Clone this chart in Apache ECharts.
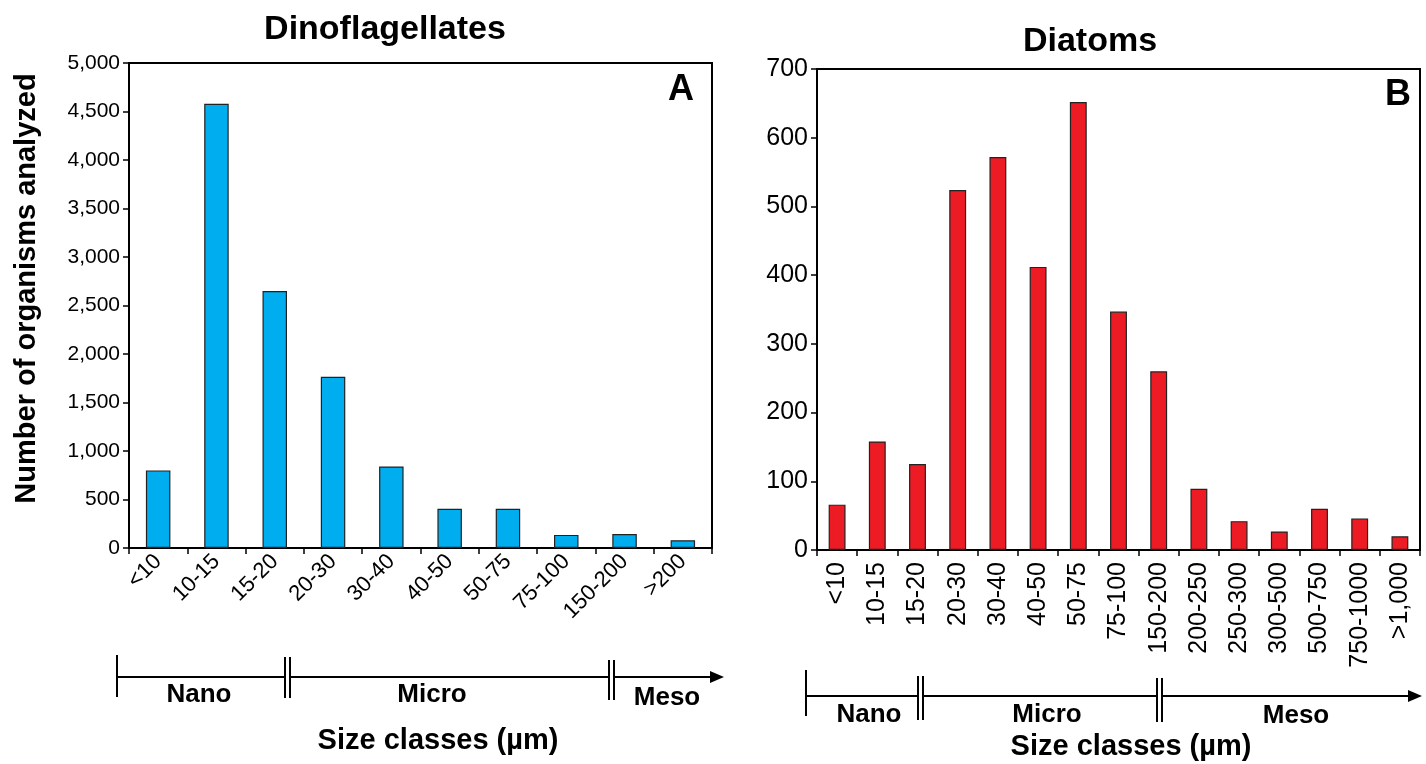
<!DOCTYPE html>
<html>
<head>
<meta charset="utf-8">
<script src="https://cdn.jsdelivr.net/npm/echarts@6/dist/echarts.min.js"></script>
<style>
html,body{margin:0;padding:0;background:#fff;}
#chart{width:1426px;height:764px;}
</style>
</head>
<body>
<div id="chart"></div>
<script>
// Panel A: Dinoflagellates
const dinoCategories = ['<10','10-15','15-20','20-30','30-40','40-50','50-75','75-100','150-200','>200'];
const dinoValues = [800, 4580, 2650, 1765, 840, 405, 405, 135, 145, 80];
// Panel B: Diatoms
const diatomCategories = ['<10','10-15','15-20','20-30','30-40','40-50','50-75','75-100','150-200','200-250','250-300','300-500','500-750','750-1000','>1,000'];
const diatomValues = [66, 158, 125, 524, 572, 412, 652, 347, 260, 89, 42, 27, 60, 46, 20];
// Axis ticks
const dinoYMax = 5000, dinoYStep = 500;
const diatomYMax = 700, diatomYStep = 100;

const FONT = "'Liberation Sans', Arial, sans-serif";
const chart = echarts.init(document.getElementById('chart'), null, {renderer:'canvas'});

function fmt(v){ return v.toLocaleString('en-US'); }

const axisLine = {show:true, lineStyle:{color:'#000', width:2}};
const axisTick = {show:true, length:6, lineStyle:{color:'#000', width:1.5}};

function bracket(x0, x1, y, dbl1, dbl2, endBarTop, endBarBot, dblTop, dblBot, dbl2Top, dbl2Bot){
  const els = [];
  const ls = {stroke:'#000', lineWidth:2};
  els.push({type:'line', shape:{x1:x0, y1:endBarTop, x2:x0, y2:endBarBot}, style:ls});
  els.push({type:'line', shape:{x1:x0, y1:y, x2:dbl1, y2:y}, style:ls});
  els.push({type:'line', shape:{x1:dbl1+5, y1:y, x2:dbl2, y2:y}, style:ls});
  els.push({type:'line', shape:{x1:dbl2+5, y1:y, x2:x1-10, y2:y}, style:ls});
  els.push({type:'line', shape:{x1:dbl1, y1:dblTop, x2:dbl1, y2:dblBot}, style:ls});
  els.push({type:'line', shape:{x1:dbl1+5, y1:dblTop, x2:dbl1+5, y2:dblBot}, style:ls});
  els.push({type:'line', shape:{x1:dbl2, y1:dbl2Top, x2:dbl2, y2:dbl2Bot}, style:ls});
  els.push({type:'line', shape:{x1:dbl2+5, y1:dbl2Top, x2:dbl2+5, y2:dbl2Bot}, style:ls});
  els.push({type:'polygon', shape:{points:[[x1-14,y-6],[x1,y],[x1-14,y+6]]}, style:{fill:'#000'}});
  return els;
}
function txt(x, y, s, size){
  return {type:'text', x:x, y:y, style:{text:s, fill:'#000', font:'bold '+size+'px '+FONT, textAlign:'center', textVerticalAlign:'middle'}};
}

const graphics = [].concat(
  bracket(117, 724, 677, 285, 609, 655, 697, 657, 698, 660, 700),
  [txt(199, 695, 'Nano', 26), txt(432, 695, 'Micro', 26), txt(667, 698, 'Meso', 26), txt(438, 741, 'Size classes (µm)', 29)],
  bracket(806, 1422, 696, 918, 1157, 670, 716, 676, 720, 678, 722),
  [txt(869, 715, 'Nano', 26), txt(1047, 715, 'Micro', 26), txt(1296, 716, 'Meso', 26), txt(1131, 747, 'Size classes (µm)', 29)],
  [
    {type:'text', x:681, y:90, style:{text:'A', fill:'#000', font:'bold 36px '+FONT, textAlign:'center', textVerticalAlign:'middle'}},
    {type:'text', x:1398, y:95, style:{text:'B', fill:'#000', font:'bold 36px '+FONT, textAlign:'center', textVerticalAlign:'middle'}}
  ]
);

const option = {
  backgroundColor:'#fff',
  animation:false,
  title:[
    {text:'Dinoflagellates', left:380, top:8, textAlign:'center', textStyle:{fontFamily:FONT, fontWeight:'bold', fontSize:34, color:'#000'}},
    {text:'Diatoms', left:1085, top:20, textAlign:'center', textStyle:{fontFamily:FONT, fontWeight:'bold', fontSize:34, color:'#000'}}
  ],
  grid:[
    {left:129, top:63, width:583, height:485, show:true, borderColor:'#000', borderWidth:2, backgroundColor:'transparent'},
    {left:817, top:69, width:603, height:481, show:true, borderColor:'#000', borderWidth:2, backgroundColor:'transparent'}
  ],
  xAxis:[
    {type:'category', gridIndex:0, data:dinoCategories, axisLine:axisLine, axisTick:axisTick,
     axisLabel:{rotate:45, fontFamily:FONT, fontSize:22, color:'#000', margin:10, interval:0}},
    {type:'category', gridIndex:1, data:diatomCategories, axisLine:axisLine, axisTick:axisTick,
     axisLabel:{rotate:90, fontFamily:FONT, fontSize:25, color:'#000', margin:12, interval:0}}
  ],
  yAxis:[
    {type:'value', gridIndex:0, min:0, max:dinoYMax, interval:dinoYStep, splitLine:{show:false},
     axisLine:axisLine, axisTick:axisTick,
     axisLabel:{fontFamily:FONT, fontSize:21, color:'#000', margin:9, formatter:fmt},
     name:'Number of organisms analyzed', nameLocation:'middle', nameGap:88, nameRotate:90,
     nameTextStyle:{fontFamily:FONT, fontWeight:'bold', fontSize:29, color:'#000', padding:[0,0,0,34]}},
    {type:'value', gridIndex:1, min:0, max:diatomYMax, interval:diatomYStep, splitLine:{show:false},
     axisLine:axisLine, axisTick:axisTick,
     axisLabel:{fontFamily:FONT, fontSize:25, color:'#000', margin:9, formatter:fmt}}
  ],
  series:[
    {type:'bar', xAxisIndex:0, yAxisIndex:0, data:dinoValues, barWidth:'42%',
     itemStyle:{color:'#00AEEF', borderColor:'#222', borderWidth:1.2}},
    {type:'bar', xAxisIndex:1, yAxisIndex:1, data:diatomValues, barWidth:'42%',
     itemStyle:{color:'#ED1C24', borderColor:'#222', borderWidth:1.2}}
  ],
  graphic:graphics
};
chart.setOption(option);
</script>
</body>
</html>
